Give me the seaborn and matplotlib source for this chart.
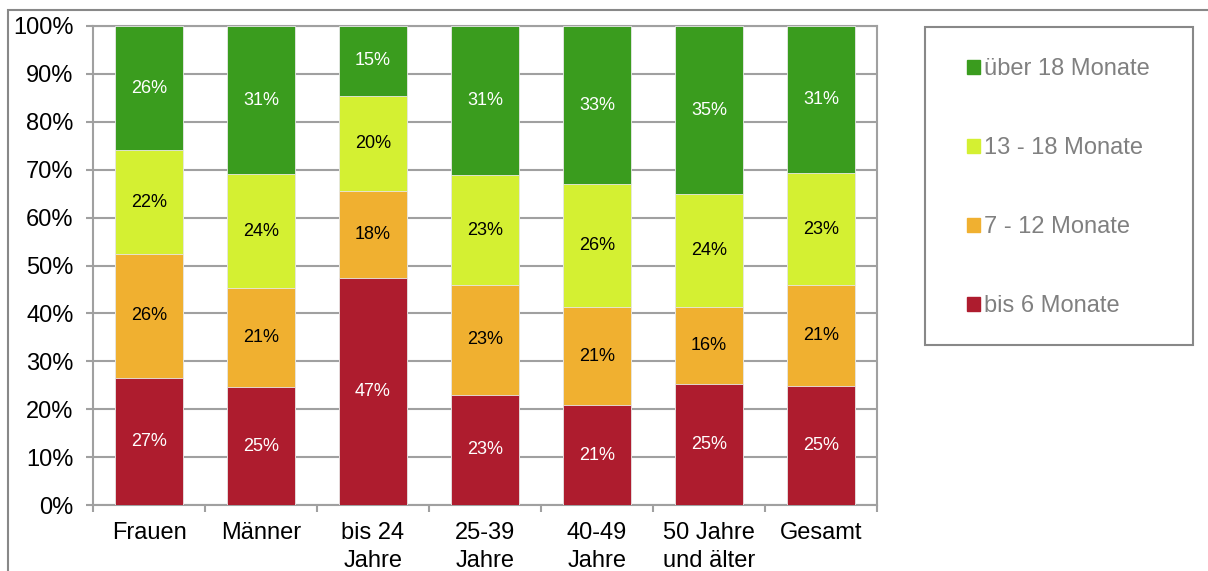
import matplotlib.pyplot as plt
import matplotlib.patches as mpatches
from matplotlib.ticker import FixedLocator, PercentFormatter
import numpy as np
import pandas as pd
import seaborn as sns

# Daten (Anteile in %)
kategorien = ["Frauen", "Männer", "bis 24\nJahre", "25-39\nJahre",
              "40-49\nJahre", "50 Jahre\nund älter", "Gesamt"]
bis_6 = [26.6, 24.6, 47.4, 23.0, 20.8, 25.3, 24.8]
m_7_12 = [25.8, 20.6, 18.2, 22.9, 20.6, 16.0, 21.1]
m_13_18 = [21.7, 23.8, 19.8, 23.0, 25.6, 23.6, 23.4]
ueber_18 = [25.9, 31.0, 14.6, 31.1, 33.0, 35.1, 30.7]

serien = ["bis 6 Monate", "7 - 12 Monate", "13 - 18 Monate", "über 18 Monate"]
farben = ["#ae1c2e", "#f0b030", "#d4f032", "#3a9c1e"]
textfarben = ["white", "black", "black", "white"]

df = pd.DataFrame({"kategorie": kategorien, serien[0]: bis_6, serien[1]: m_7_12,
                   serien[2]: m_13_18, serien[3]: ueber_18})
werte = df[serien].to_numpy()
kum = werte.cumsum(axis=1)

sns.set_theme(style="white")
plt.rcParams["font.family"] = ["Liberation Sans", "DejaVu Sans"]

fig = plt.figure(figsize=(12.08, 5.71), dpi=100)
ax = fig.add_axes([93 / 1208, 1 - 505 / 571, 784 / 1208, 479 / 571])

# gestapelte Balken: von oben nach unten übereinander zeichnen
for i in range(len(serien) - 1, -1, -1):
    sns.barplot(x=df["kategorie"], y=kum[:, i], color=farben[i], saturation=1,
                width=0.61, ax=ax, edgecolor="#e8e8e8", linewidth=0.6, zorder=3)

# Beschriftungen
for j in range(len(kategorien)):
    for i in range(len(serien)):
        mitte = kum[j, i] - werte[j, i] / 2
        ax.text(j, mitte, f"{werte[j, i]:.0f}%", ha="center", va="center",
                fontsize=13, color=textfarben[i], zorder=4)

ax.set_xlim(-0.5, len(kategorien) - 0.5)
ax.set_ylim(0, 100)
ax.set_xlabel("")
ax.set_ylabel("")
ax.yaxis.set_major_locator(FixedLocator(np.arange(0, 101, 10)))
ax.yaxis.set_major_formatter(PercentFormatter(decimals=0))
ax.grid(axis="y", color="#a0a0a0", linewidth=1.5, zorder=0)
ax.set_axisbelow(True)

for s in ax.spines.values():
    s.set_color("#a0a0a0")
    s.set_linewidth(1.5)

ax.tick_params(axis="y", labelsize=17, length=5, width=1.5, color="#a0a0a0",
               pad=9, left=True, labelcolor="black")
ax.tick_params(axis="x", which="major", labelsize=17, length=0, pad=12,
               labelcolor="black")
for lbl in ax.get_xticklabels():
    lbl.set_linespacing(1.4)
ax.xaxis.set_minor_locator(FixedLocator(np.arange(-0.5, len(kategorien), 1)))
ax.tick_params(axis="x", which="minor", length=5, width=1.5, color="#a0a0a0",
               bottom=True)

# Legende (Reihenfolge von oben nach unten)
handles = [mpatches.Patch(color=farben[i], label=serien[i]) for i in range(3, -1, -1)]
fig.legend(handles=handles, loc="upper left",
           bbox_to_anchor=(967 / 1208, 1 - 58 / 571), frameon=False,
           fontsize=17, labelcolor="#808080", borderpad=0, borderaxespad=0,
           handlelength=0.55, handleheight=0.55, handletextpad=0.18,
           labelspacing=2.42)
fig.add_artist(mpatches.Rectangle((925 / 1208, 1 - 345 / 571), 268 / 1208, 318 / 571,
                                  transform=fig.transFigure, fill=False,
                                  edgecolor="#888888", linewidth=1.5))

# äußerer Rahmen
fig.add_artist(mpatches.Rectangle((8 / 1208, -0.1), 1.2, 1.1 - 10 / 571,
                                  transform=fig.transFigure, fill=False,
                                  edgecolor="#888888", linewidth=1.5))

fig.savefig("out.png", dpi=100)
